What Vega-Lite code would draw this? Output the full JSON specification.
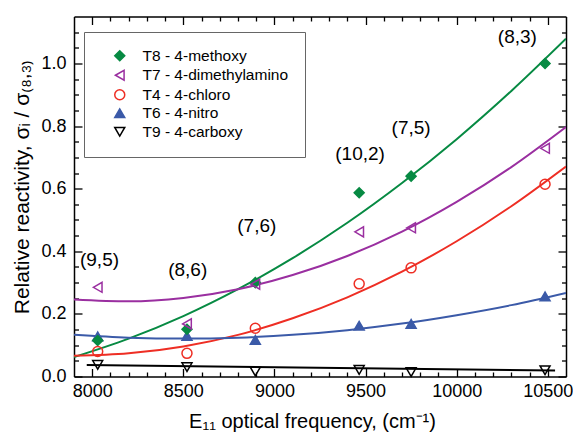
{
  "$schema": "https://vega.github.io/schema/vega-lite/v6.json",
  "width": 492,
  "height": 360,
  "autosize": {"type": "none"},
  "padding": {"left": 74, "top": 16.5, "right": 7, "bottom": 57.5},
  "background": "white",
  "config": {
    "view": {"stroke": null},
    "font": "Liberation Sans",
    "axis": {
      "grid": false,
      "labelFont": "Liberation Sans",
      "labelFontSize": 18,
      "labelColor": "black",
      "titleFont": "Liberation Sans",
      "titleFontSize": 19,
      "titleFontWeight": "normal",
      "titleColor": "black",
      "domainColor": "black",
      "domainWidth": 1.5,
      "tickColor": "black",
      "tickWidth": 1.3
    },
    "legend": {
      "padding": 16,
      "strokeColor": "#666666",
      "fillColor": "white",
      "labelFont": "Liberation Sans",
      "labelFontSize": 15.5,
      "labelColor": "black",
      "symbolSize": 100,
      "symbolStrokeWidth": 1.5,
      "rowPadding": 1.5,
      "labelOffset": 15,
      "symbolOffset": 12
    }
  },
  "datasets": {
    "pts": [
      {"series": "T9 - 4-carboxy", "x": 8030, "y": 0.037},
      {"series": "T9 - 4-carboxy", "x": 8520, "y": 0.030},
      {"series": "T9 - 4-carboxy", "x": 8895, "y": 0.016},
      {"series": "T9 - 4-carboxy", "x": 9465, "y": 0.021},
      {"series": "T9 - 4-carboxy", "x": 9750, "y": 0.014},
      {"series": "T9 - 4-carboxy", "x": 10485, "y": 0.020},
      {"series": "T6 - 4-nitro", "x": 8030, "y": 0.128},
      {"series": "T6 - 4-nitro", "x": 8520, "y": 0.130},
      {"series": "T6 - 4-nitro", "x": 8895, "y": 0.117},
      {"series": "T6 - 4-nitro", "x": 9465, "y": 0.162},
      {"series": "T6 - 4-nitro", "x": 9750, "y": 0.168},
      {"series": "T6 - 4-nitro", "x": 10485, "y": 0.256},
      {"series": "T8 - 4-methoxy", "x": 8030, "y": 0.115},
      {"series": "T8 - 4-methoxy", "x": 8520, "y": 0.151},
      {"series": "T8 - 4-methoxy", "x": 8895, "y": 0.300},
      {"series": "T8 - 4-methoxy", "x": 9465, "y": 0.587},
      {"series": "T8 - 4-methoxy", "x": 9750, "y": 0.640},
      {"series": "T8 - 4-methoxy", "x": 10485, "y": 1.000},
      {"series": "T4 - 4-chloro", "x": 8030, "y": 0.080},
      {"series": "T4 - 4-chloro", "x": 8520, "y": 0.074},
      {"series": "T4 - 4-chloro", "x": 8895, "y": 0.154},
      {"series": "T4 - 4-chloro", "x": 9465, "y": 0.296},
      {"series": "T4 - 4-chloro", "x": 9750, "y": 0.347},
      {"series": "T4 - 4-chloro", "x": 10485, "y": 0.614},
      {"series": "T7 - 4-dimethylamino", "x": 8030, "y": 0.285},
      {"series": "T7 - 4-dimethylamino", "x": 8520, "y": 0.168},
      {"series": "T7 - 4-dimethylamino", "x": 8895, "y": 0.295},
      {"series": "T7 - 4-dimethylamino", "x": 9465, "y": 0.462},
      {"series": "T7 - 4-dimethylamino", "x": 9750, "y": 0.475},
      {"series": "T7 - 4-dimethylamino", "x": 10485, "y": 0.729}
    ],
    "fit": [
      {"series": "T8 - 4-methoxy", "x": 7900, "y": 0.062},
      {"series": "T8 - 4-methoxy", "x": 8200, "y": 0.121},
      {"series": "T8 - 4-methoxy", "x": 8500, "y": 0.193},
      {"series": "T8 - 4-methoxy", "x": 8800, "y": 0.279},
      {"series": "T8 - 4-methoxy", "x": 9100, "y": 0.378},
      {"series": "T8 - 4-methoxy", "x": 9400, "y": 0.491},
      {"series": "T8 - 4-methoxy", "x": 9700, "y": 0.618},
      {"series": "T8 - 4-methoxy", "x": 10000, "y": 0.758},
      {"series": "T8 - 4-methoxy", "x": 10300, "y": 0.912},
      {"series": "T8 - 4-methoxy", "x": 10600, "y": 1.079},
      {"series": "T7 - 4-dimethylamino", "x": 7900, "y": 0.246},
      {"series": "T7 - 4-dimethylamino", "x": 8200, "y": 0.240},
      {"series": "T7 - 4-dimethylamino", "x": 8500, "y": 0.251},
      {"series": "T7 - 4-dimethylamino", "x": 8800, "y": 0.279},
      {"series": "T7 - 4-dimethylamino", "x": 9100, "y": 0.324},
      {"series": "T7 - 4-dimethylamino", "x": 9400, "y": 0.385},
      {"series": "T7 - 4-dimethylamino", "x": 9700, "y": 0.463},
      {"series": "T7 - 4-dimethylamino", "x": 10000, "y": 0.558},
      {"series": "T7 - 4-dimethylamino", "x": 10300, "y": 0.669},
      {"series": "T7 - 4-dimethylamino", "x": 10600, "y": 0.797},
      {"series": "T4 - 4-chloro", "x": 7900, "y": 0.066},
      {"series": "T4 - 4-chloro", "x": 8200, "y": 0.074},
      {"series": "T4 - 4-chloro", "x": 8500, "y": 0.096},
      {"series": "T4 - 4-chloro", "x": 8800, "y": 0.133},
      {"series": "T4 - 4-chloro", "x": 9100, "y": 0.186},
      {"series": "T4 - 4-chloro", "x": 9400, "y": 0.253},
      {"series": "T4 - 4-chloro", "x": 9700, "y": 0.335},
      {"series": "T4 - 4-chloro", "x": 10000, "y": 0.432},
      {"series": "T4 - 4-chloro", "x": 10300, "y": 0.544},
      {"series": "T4 - 4-chloro", "x": 10600, "y": 0.671},
      {"series": "T6 - 4-nitro", "x": 7900, "y": 0.133},
      {"series": "T6 - 4-nitro", "x": 8200, "y": 0.124},
      {"series": "T6 - 4-nitro", "x": 8500, "y": 0.121},
      {"series": "T6 - 4-nitro", "x": 8800, "y": 0.124},
      {"series": "T6 - 4-nitro", "x": 9100, "y": 0.133},
      {"series": "T6 - 4-nitro", "x": 9400, "y": 0.148},
      {"series": "T6 - 4-nitro", "x": 9700, "y": 0.169},
      {"series": "T6 - 4-nitro", "x": 10000, "y": 0.196},
      {"series": "T6 - 4-nitro", "x": 10300, "y": 0.228},
      {"series": "T6 - 4-nitro", "x": 10600, "y": 0.267}
    ],
    "t9fit": [
      {"series": "T9 - 4-carboxy", "x": 7970, "y": 0.037},
      {"series": "T9 - 4-carboxy", "x": 10540, "y": 0.019}
    ],
    "labels": [
      {"label": "(9,5)", "x": 8040, "y": 0.373},
      {"label": "(8,6)", "x": 8524, "y": 0.341},
      {"label": "(7,6)", "x": 8903, "y": 0.480},
      {"label": "(10,2)", "x": 9470, "y": 0.710},
      {"label": "(7,5)", "x": 9750, "y": 0.795},
      {"label": "(8,3)", "x": 10333, "y": 1.084}
    ]
  },
  "resolve": {"axis": {"x": "independent", "y": "independent"}},
  "layer": [
    {
      "data": {"name": "fit"},
      "mark": {"type": "line", "strokeWidth": 2, "interpolate": "monotone", "clip": true},
      "encoding": {
        "x": {
          "field": "x", "type": "quantitative",
          "scale": {"domain": [7900, 10600], "nice": false, "zero": false},
          "axis": {
            "orient": "bottom",
            "values": [8000, 8500, 9000, 9500, 10000, 10500],
            "format": "d",
            "tickSize": -8,
            "labelPadding": 14,
            "domain": true,
            "title": "E₁₁ optical frequency,  (cm⁻¹)",
            "titleFontSize": 20,
            "titleX": 238,
            "titlePadding": 11
          }
        },
        "y": {
          "field": "y", "type": "quantitative",
          "scale": {"domain": [0, 1.15], "nice": false, "zero": false},
          "axis": {
            "orient": "left",
            "values": [0, 0.2, 0.4, 0.6, 0.8, 1.0],
            "format": ".1f",
            "tickSize": -8,
            "labelPadding": 16,
            "domain": true,
            "title": "Relative reactivity, σᵢ / σ₍₈,₃₎",
            "titleFontSize": 21,
            "titleY": 170,
            "titlePadding": 8
          }
        },
        "color": {
          "field": "series", "type": "nominal",
          "scale": {
            "domain": ["T8 - 4-methoxy", "T7 - 4-dimethylamino", "T4 - 4-chloro", "T6 - 4-nitro"],
            "range": ["#078a43", "#9a2fa0", "#ee2e24", "#3b5aa8"]
          },
          "legend": null
        }
      }
    },
    {
      "data": {"name": "t9fit"},
      "mark": {"type": "line", "strokeWidth": 2, "color": "black", "clip": true},
      "encoding": {
        "x": {
          "field": "x", "type": "quantitative",
          "scale": {"domain": [7900, 10600], "nice": false, "zero": false},
          "axis": {
            "orient": "top",
            "values": [8100, 8200, 8300, 8400, 8600, 8700, 8800, 8900, 9100, 9200, 9300, 9400, 9600, 9700, 9800, 9900, 10100, 10200, 10300, 10400],
            "tickSize": -4.5,
            "labels": false,
            "domain": false,
            "title": null
          }
        },
        "y": {
          "field": "y", "type": "quantitative",
          "scale": {"domain": [0, 1.15], "nice": false, "zero": false},
          "axis": {
            "orient": "right",
            "values": [0.05, 0.1, 0.15, 0.25, 0.3, 0.35, 0.45, 0.5, 0.55, 0.65, 0.7, 0.75, 0.85, 0.9, 0.95, 1.05, 1.1],
            "tickSize": -4.5,
            "labels": false,
            "domain": false,
            "title": null
          }
        }
      }
    },
    {
      "data": {"name": "pts"},
      "mark": {"type": "point", "strokeWidth": 1.5, "opacity": 1, "fillOpacity": 1, "size": 100},
      "encoding": {
        "x": {
          "field": "x", "type": "quantitative",
          "scale": {"domain": [7900, 10600], "nice": false, "zero": false},
          "axis": {
            "orient": "bottom",
            "values": [8100, 8200, 8300, 8400, 8600, 8700, 8800, 8900, 9100, 9200, 9300, 9400, 9600, 9700, 9800, 9900, 10100, 10200, 10300, 10400],
            "tickSize": -4.5,
            "labels": false,
            "domain": false,
            "title": null
          }
        },
        "y": {
          "field": "y", "type": "quantitative",
          "scale": {"domain": [0, 1.15], "nice": false, "zero": false},
          "axis": {
            "orient": "left",
            "values": [0.05, 0.1, 0.15, 0.25, 0.3, 0.35, 0.45, 0.5, 0.55, 0.65, 0.7, 0.75, 0.85, 0.9, 0.95, 1.05, 1.1],
            "tickSize": -4.5,
            "labels": false,
            "domain": false,
            "title": null
          }
        },
        "shape": {
          "field": "series", "type": "nominal",
          "scale": {
            "domain": ["T8 - 4-methoxy", "T7 - 4-dimethylamino", "T4 - 4-chloro", "T6 - 4-nitro", "T9 - 4-carboxy"],
            "range": ["diamond", "triangle-left", "circle", "triangle-up", "triangle-down"]
          },
          "legend": {"title": null, "orient": "none", "legendX": 10, "legendY": 15.5}
        },
        "stroke": {
          "field": "series", "type": "nominal",
          "scale": {
            "domain": ["T8 - 4-methoxy", "T7 - 4-dimethylamino", "T4 - 4-chloro", "T6 - 4-nitro", "T9 - 4-carboxy"],
            "range": ["#078a43", "#9a2fa0", "#ee2e24", "#3b5aa8", "#000000"]
          },
          "legend": {"title": null, "orient": "none", "legendX": 10, "legendY": 15.5}
        },
        "fill": {
          "field": "series", "type": "nominal",
          "scale": {
            "domain": ["T8 - 4-methoxy", "T7 - 4-dimethylamino", "T4 - 4-chloro", "T6 - 4-nitro", "T9 - 4-carboxy"],
            "range": ["#078a43", "transparent", "transparent", "#3b5aa8", "transparent"]
          },
          "legend": {"title": null, "orient": "none", "legendX": 10, "legendY": 15.5}
        }
      }
    },
    {
      "data": {"name": "labels"},
      "mark": {"type": "text", "fontSize": 19, "font": "Liberation Sans", "color": "black", "align": "center", "baseline": "middle"},
      "encoding": {
        "x": {
          "field": "x", "type": "quantitative",
          "scale": {"domain": [7900, 10600], "nice": false, "zero": false},
          "axis": {
            "orient": "top",
            "values": [8000, 8500, 9000, 9500, 10000, 10500],
            "tickSize": -8,
            "labels": false,
            "domain": true,
            "title": null
          }
        },
        "y": {
          "field": "y", "type": "quantitative",
          "scale": {"domain": [0, 1.15], "nice": false, "zero": false},
          "axis": {
            "orient": "right",
            "values": [0, 0.2, 0.4, 0.6, 0.8, 1.0],
            "tickSize": -8,
            "labels": false,
            "domain": true,
            "title": null
          }
        },
        "text": {"field": "label", "type": "nominal"}
      }
    }
  ]
}
